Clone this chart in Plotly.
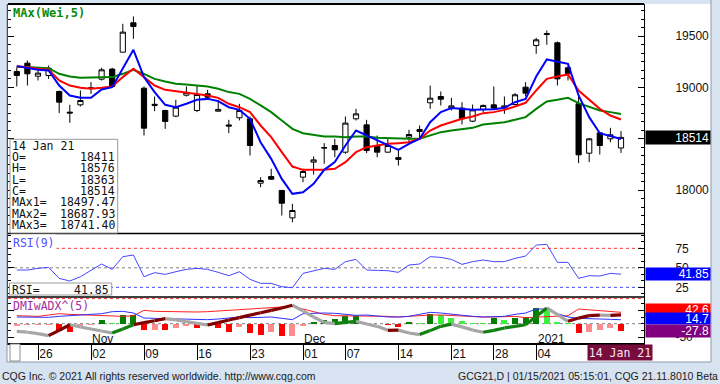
import plotly.graph_objects as go

W, H = 720, 384

# ---------------- data ----------------
dates = ["2020-10-22", "2020-10-23", "2020-10-26", "2020-10-27", "2020-10-28", "2020-10-29", "2020-10-30",
         "2020-11-02", "2020-11-03", "2020-11-04", "2020-11-05", "2020-11-06",
         "2020-11-09", "2020-11-10", "2020-11-11", "2020-11-12", "2020-11-13",
         "2020-11-16", "2020-11-17", "2020-11-18", "2020-11-19", "2020-11-20",
         "2020-11-23", "2020-11-24", "2020-11-25", "2020-11-27", "2020-11-30",
         "2020-12-01", "2020-12-02", "2020-12-03", "2020-12-04",
         "2020-12-07", "2020-12-08", "2020-12-09", "2020-12-10", "2020-12-11",
         "2020-12-14", "2020-12-15", "2020-12-16", "2020-12-17", "2020-12-18",
         "2020-12-21", "2020-12-22", "2020-12-23", "2020-12-24",
         "2020-12-28", "2020-12-29", "2020-12-30", "2020-12-31",
         "2021-01-04", "2021-01-05", "2021-01-06", "2021-01-07", "2021-01-08",
         "2021-01-11", "2021-01-12", "2021-01-13", "2021-01-14"]

open_ = [19156, 19237, 19110, 19117, 18961, 18760, 18831, 18990, 19081, 19179,
         19344, 19630, 18993, 18836, 18776, 18721, 18925, 18776, 18938, 18769,
         18635, 18705, 18695, 18068, 18133, 17997, 17730, 18127, 18273, 18410,
         18435, 18370, 18695, 18636, 18435, 18370, 18299, 18516, 18571, 18851,
         18912, 18799, 18799, 18672, 18786, 18831, 18802, 18834, 19003, 19409,
         19516, 19435, 19192, 18841, 18360, 18558, 18500, 18411]
high = [19198, 19263, 19182, 19214, 18971, 18831, 18971, 19052, 19192, 19192,
        19620, 19692, 19010, 18912, 18782, 18880, 19010, 19019, 18977, 18880,
        18685, 18841, 18717, 18126, 18208, 18003, 17867, 18208, 18328, 18458,
        18500, 18717, 18792, 18685, 18532, 18510, 18386, 18588, 18630, 19019,
        18961, 18899, 18857, 18834, 18834, 19010, 18912, 18945, 19052, 19484,
        19555, 19448, 19214, 18938, 18506, 18565, 18607, 18576]
low = [19010, 19019, 19068, 19084, 18750, 18656, 18815, 18938, 19068, 18997,
       19340, 19474, 18532, 18769, 18597, 18711, 18912, 18760, 18896, 18766,
       18555, 18679, 18338, 18029, 18100, 17753, 17688, 18078, 18152, 18256,
       18321, 18354, 18679, 18360, 18321, 18364, 18240, 18467, 18500, 18792,
       18825, 18776, 18640, 18662, 18760, 18789, 18743, 18828, 18912, 19328,
       19416, 19019, 19068, 18263, 18273, 18347, 18467, 18363]
close = [19117, 19133, 19140, 19188, 18857, 18752, 18873, 18996, 19172, 19010,
         19539, 19594, 18604, 18826, 18669, 18808, 18950, 18932, 18906, 18786,
         18625, 18776, 18435, 18094, 18107, 17873, 17802, 18182, 18295, 18414,
         18393, 18653, 18743, 18386, 18370, 18435, 18318, 18542, 18591, 18896,
         18886, 18821, 18695, 18782, 18825, 18799, 18821, 18929, 18945, 19464,
         19523, 19084, 19133, 18344, 18500, 18435, 18539, 18514]

ma1 = [19208, 19192, 19172, 19166, 19019, 18922, 18899, 18899, 18980, 19003,
       19182, 19367, 19101, 18955, 18831, 18808, 18841, 18880, 18889, 18867,
       18808, 18782, 18695, 18467, 18305, 18110, 17964, 17980, 18062, 18198,
       18273, 18435, 18581, 18532, 18484, 18435, 18393, 18451, 18500, 18662,
       18760, 18799, 18789, 18782, 18786, 18789, 18802, 18857, 18889, 19107,
       19273, 19253, 19230, 18922, 18711, 18555, 18523, 18497.47]
ma2 = [19205, 19198, 19182, 19172, 19068, 19019, 18997, 18987, 18997, 19010,
       19101, 19182, 19101, 19019, 18977, 18964, 18945, 18938, 18922, 18899,
       18841, 18808, 18760, 18630, 18516, 18370, 18230, 18198, 18198, 18198,
       18208, 18273, 18370, 18419, 18435, 18451, 18458, 18467, 18500, 18581,
       18630, 18662, 18695, 18717, 18750, 18760, 18782, 18815, 18851, 18971,
       19084, 19107, 19127, 18971, 18880, 18792, 18727, 18687.93]
ma3 = [19205, 19198, 19192, 19188, 19133, 19107, 19094, 19094, 19094, 19101,
       19133, 19172, 19133, 19084, 19058, 19036, 19029, 19019, 19010, 18987,
       18955, 18938, 18889, 18825, 18760, 18679, 18597, 18555, 18539, 18523,
       18523, 18516, 18523, 18523, 18510, 18506, 18500, 18500, 18500, 18532,
       18565, 18581, 18591, 18607, 18640, 18653, 18662, 18685, 18711, 18792,
       18864, 18880, 18899, 18847, 18808, 18776, 18760, 18741.40]

rsi = [47.2, 47.2, 49.3, 50.6, 36.5, 33.1, 38.6, 47.2, 54.9, 48.0,
       64.3, 66.4, 38.6, 43.8, 41.6, 45.0, 48.0, 49.3, 48.0, 44.2,
       39.9, 45.0, 35.2, 30.1, 30.1, 25.8, 24.5, 42.9, 46.3, 49.3,
       48.0, 57.9, 60.8, 47.2, 46.7, 46.3, 44.2, 53.6, 54.9, 64.3,
       63.4, 60.8, 54.4, 57.9, 60.0, 57.9, 57.9, 62.1, 65.1, 79.2,
       80.1, 57.0, 57.0, 36.5, 39.9, 39.5, 42.9, 41.85]

di_minus = [30, 27.5, 27.5, 32.5, 37.5, 35, 33.8, 31.3, 30, 27.5,
            27.5, 30, 50, 46.3, 45, 46.3, 45, 43.8, 45, 47.5,
            50, 52.5, 55, 58.8, 61.3, 62.5, 65, 55, 45, 35,
            30, 30, 30, 27.5, 27.5, 27.5, 25, 27.5, 32.5, 32.5,
            32.5, 30, 27.5, 26.3, 25, 25, 26.3, 27.5, 22.5, 25,
            27.5, 27.5, 30, 55, 52.5, 47.5, 45, 42.6]
di_plus = [25, 25, 25, 23.8, 27.5, 30, 32.5, 35, 37.5, 45,
           46.3, 40, 21.3, 20, 18.8, 17.5, 17.5, 16.3, 15, 17.5,
           20, 25, 22.5, 25, 25, 20, 15, 37.5, 40, 40,
           38.8, 36.3, 31.3, 32.5, 27.5, 25, 25, 27.5, 35, 42.5,
           40, 35, 32.5, 27.5, 25, 26.3, 27.5, 35, 40, 55,
           55, 37.5, 25, 20, 17.5, 17.5, 16.3, 14.7]
dmi_osc = [-7, -6, -5, -4, -29, -30, -10, -5, 12, 2,
           31, 32, -25, -22, -25, -17, -7, -16, -10, -16,
           -32, -12, -35, -41, -32, -47, -45, -7, 5, 15,
           17, 27, 28, -3, -2, -4, -14, 5, 3, 38,
           33, 21, 9, 4, 1, 21, 15, 21, 25, 59,
           55, 5, 3, -35, -32, -25, -16, -27.8]
adx = [-29, -32, -37.5, -45, -25, -4, -12.5, -20, -27.5, -35,
       -20, -4, 4, 11, 19, 14, 7.5, 1, -5, 4,
       14, 22.5, 32, 41, 50, 59, 69, 48, 25, 5,
       0, 5, 9, -1, -10, -25, -24, -35, -41, -26,
       -10, -2, -12, -24, -32, -25, -16, -10, -4, 27,
       59, 34, 9, 21, 30, 32, 31, 33]

tick_dates = ["2020-10-26", "2020-11-02", "2020-11-09", "2020-11-16", "2020-11-23",
              "2020-12-01", "2020-12-07", "2020-12-14", "2020-12-21", "2020-12-28", "2021-01-04"]
tick_labels = ["26", "02", "09", "16", "23", "01", "07", "14", "21", "28", "04"]
month_dates = ["2020-11-02", "2020-12-01", "2021-01-04"]
month_labels = ["Nov", "Dec", "2021"]

price_ticks = [18000, 18500, 19000, 19500]
price_tick_labels = ["18000", "", "19000", "19500"]
rsi_ticks = [25, 50, 75]
rsi_tick_labels = ["25", "50", "75"]
dmi_ticks = [50, -50]
dmi_tick_labels = ["", "-50"]

last_date_label = "14 Jan 21"
info_labels = ["O=", "H=", "L=", "C=", "MAx1=", "MAx2=", "MAx3="]
info_values = ["18411", "18576", "18363", "18514", "18497.47", "18687.93", "18741.40"]

# ---------------- figure ----------------
AX = "Liberation Sans, Arial, sans-serif"
MONO = "DejaVu Sans Mono, monospace"

xi = list(range(len(dates)))
tickvals = [dates.index(d) for d in tick_dates]


def px(x):
    return x / W


def py(y):
    return 1 - y / H


MAIN_T, MAIN_B = 4, 233.5
RSI_B = 297
DMI_B = 343
XL, XR = 8, 644

fig = go.Figure()

# moving averages
for ys, col in [(ma3, "#008000"), (ma2, "#ff0000"), (ma1, "#0000ff")]:
    fig.add_trace(go.Scatter(x=xi, y=ys, mode="lines", line=dict(color=col, width=2),
                             xaxis="x", yaxis="y", hoverinfo="skip"))

fig.add_trace(go.Candlestick(
    x=xi, open=open_, high=high, low=low, close=close,
    increasing=dict(fillcolor="white", line=dict(color="black", width=1)),
    decreasing=dict(fillcolor="black", line=dict(color="black", width=1)),
    whiskerwidth=0, xaxis="x", yaxis="y", hoverinfo="skip"))

# RSI
fig.add_trace(go.Scatter(x=xi, y=rsi, mode="lines", line=dict(color="#4646ff", width=1),
                         xaxis="x", yaxis="y2", hoverinfo="skip"))

# DMI histogram
bar_cols = []
for i, v in enumerate(dmi_osc):
    prev = dmi_osc[i - 1] if i > 0 else -1e9
    if v >= 0:
        bar_cols.append("#008000" if v >= prev else "#3cf03c")
    else:
        bar_cols.append("#ff0000" if v <= prev else "#ff8c8c")
fig.add_trace(go.Bar(x=xi, y=dmi_osc, width=0.55, marker=dict(color=bar_cols, line=dict(width=0)),
                     xaxis="x", yaxis="y3", hoverinfo="skip"))

fig.add_trace(go.Scatter(x=xi, y=di_minus, mode="lines", line=dict(color="#ff2020", width=1),
                         xaxis="x", yaxis="y3", hoverinfo="skip"))
fig.add_trace(go.Scatter(x=xi, y=di_plus, mode="lines", line=dict(color="#3030ff", width=1),
                         xaxis="x", yaxis="y3", hoverinfo="skip"))

# ADX thick coloured line
seg = {"#a6a6a6": ([], []), "#800000": ([], []), "#108010": ([], [])}
for i in range(1, len(adx)):
    if adx[i] < adx[i - 1]:
        c = "#a6a6a6"
    elif di_plus[i] > di_minus[i]:
        c = "#108010"
    else:
        c = "#800000"
    seg[c][0].extend([xi[i - 1], xi[i], None])
    seg[c][1].extend([adx[i - 1], adx[i], None])
for c, (sx, sy) in seg.items():
    fig.add_trace(go.Scatter(x=sx, y=sy, mode="lines", line=dict(color=c, width=3.2),
                             xaxis="x", yaxis="y3", hoverinfo="skip", connectgaps=False))

axis_font = dict(family=AX, size=12, color="#111111")

yaxis_common = dict(side="right", showgrid=False, zeroline=False, showline=True,
                    linecolor="black", linewidth=1, mirror="ticks", ticks="inside",
                    tickcolor="black", ticklen=6, tickwidth=1, tickfont=axis_font,
                    ticklabelstandoff=28, fixedrange=True, tickmode="array")

fig.update_layout(
    width=W, height=H, autosize=False,
    margin=dict(l=0, r=0, t=0, b=0, pad=0),
    paper_bgcolor="#d7e3f0", plot_bgcolor="white",
    showlegend=False, bargap=0,
    xaxis=dict(domain=[px(XL), px(XR)], range=[-0.83, 59.17], anchor="y3",
               tickmode="array", tickvals=tickvals, ticktext=tick_labels,
               ticks="outside", ticklen=15, tickwidth=1, tickcolor="black",
               ticklabelposition="outside right", ticklabelstandoff=-1,
               tickfont=axis_font, showgrid=False, zeroline=False,
               showline=True, linecolor="black", linewidth=1.5,
               rangeslider=dict(visible=False), fixedrange=True),
    yaxis=dict(domain=[py(MAIN_B), py(MAIN_T)], range=[17578, 19813], anchor="x",
               tickvals=price_ticks, ticktext=price_tick_labels,
               minor=dict(tickmode="linear", tick0=17500, dtick=500 / 6, ticks="inside",
                          ticklen=3, tickcolor="black"),
               **yaxis_common),
    yaxis2=dict(domain=[py(RSI_B), py(MAIN_B)], range=[12.6, 94.0], anchor="x",
                tickvals=rsi_ticks, ticktext=rsi_tick_labels,
                minor=dict(tickmode="linear", tick0=0, dtick=25 / 3, ticks="inside",
                           ticklen=3, tickcolor="black"),
                **yaxis_common),
    yaxis3=dict(domain=[py(DMI_B), py(RSI_B)], range=[-72.4, 100], anchor="x",
                tickvals=dmi_ticks, ticktext=dmi_tick_labels,
                minor=dict(tickmode="linear", tick0=0, dtick=25, ticks="inside",
                           ticklen=3, tickcolor="black"),
                **yaxis_common),
)

shapes = []
# white chart window + frame
shapes.append(dict(type="rect", xref="paper", yref="paper", x0=px(7), x1=px(711), y0=py(362), y1=py(4),
                   fillcolor="white", line=dict(width=0), layer="below"))
for (x0, y0, x1, y1) in [(7, 4, 7, 362), (711, 0, 711, 362), (7, 362, 711, 362)]:
    shapes.append(dict(type="line", xref="paper", yref="paper", x0=px(x0), x1=px(x1), y0=py(y0), y1=py(y1),
                       line=dict(color="#8c9aa8", width=1)))
# panel separators
for yy, wdt in [(MAIN_T, 2), (MAIN_B, 1.5), (RSI_B, 1.5)]:
    shapes.append(dict(type="line", xref="paper", yref="paper", x0=px(XL), x1=px(XR), y0=py(yy), y1=py(yy),
                       line=dict(color="black", width=wdt)))
# reference lines
for yv, col, ax in [(75, "#ff3030", "y2"), (50, "#808080", "y2"), (25, "#4646ff", "y2"),
                    (94, "#ff3030", "y3"), (0, "#808080", "y3")]:
    shapes.append(dict(type="line", xref="x domain", yref=ax, x0=0, x1=1, y0=yv, y1=yv,
                       line=dict(color=col, width=1, dash="dot"), layer="below"))
# info box
shapes.append(dict(type="rect", xref="paper", yref="paper", x0=px(10), x1=px(117.7), y0=py(233), y1=py(139.3),
                   fillcolor="white", line=dict(color="#9a9a9a", width=1)))
# RSI value box
shapes.append(dict(type="rect", xref="paper", yref="paper", x0=px(9.5), x1=px(111.7), y0=py(295), y1=py(283),
                   fillcolor="white", line=dict(color="#9a9a9a", width=1)))
# small button at bottom-left
shapes.append(dict(type="rect", xref="paper", yref="paper", x0=px(10), x1=px(20), y0=py(361), y1=py(344),
                   fillcolor="white", line=dict(color="#8c8c8c", width=1)))
fig.update_layout(shapes=shapes)


def ann(text, x, y, xanchor="left", size=12, color="#111111", family=AX, yref="paper", **kw):
    d = dict(text=text, x=px(x), y=py(y) if yref == "paper" else y, xref="paper", yref=yref,
             xanchor=xanchor, yanchor="middle", showarrow=False,
             font=dict(size=size, color=color, family=family))
    d.update(kw)
    return d


anns = []
anns.append(ann("<b>MAx(Wei,5)</b>", 11, 13, size=12, color="#0a8a0a", family=MONO))
anns.append(ann("RSI(9)", 11, 243, size=11.5, color="#5050ff", family=MONO, bgcolor="white"))
anns.append(ann("DMIwADX^(5)", 11, 306, size=11.5, color="#a0309a", family=MONO))

# info box text
anns.append(ann(last_date_label, 10, 146, size=11.5, family=MONO))
for k, (lab, val) in enumerate(zip(info_labels, info_values)):
    yy = 157 + k * 11.35
    anns.append(ann(lab, 10, yy, size=11.5, family=MONO))
    anns.append(ann(val, 117, yy, xanchor="right", size=11.5, family=MONO))
anns.append(ann("RSI=", 10, 289.5, size=11.5, family=MONO))
anns.append(ann(f"{rsi[-1]:.2f}", 111, 289.5, xanchor="right", size=11.5, family=MONO))

# month labels (data x)
for d, lab in zip(month_dates, month_labels):
    anns.append(dict(text=lab, x=dates.index(d) - 0.05, y=py(338.5), xref="x", yref="paper",
                     xanchor="left", yanchor="middle", showarrow=False, font=axis_font))

# right value boxes
anns.append(dict(text=f"{close[-1]}", x=px(645), y=close[-1], xref="paper", yref="y",
                 xanchor="left", yanchor="middle", showarrow=False, align="right",
                 width=62, height=11, borderpad=1, bgcolor="black",
                 font=dict(family=AX, size=12, color="white")))
anns.append(dict(text=f"{rsi[-1]:.2f}", x=px(645), y=rsi[-1], xref="paper", yref="y2",
                 xanchor="left", yanchor="middle", showarrow=False, align="right",
                 width=62, height=10, borderpad=1, bgcolor="#0000ff",
                 font=dict(family=AX, size=12, color="white")))
for txt, yy, hh, col in [(f"{di_minus[-1]:.1f}", 309.5, 10, "#ff0000"),
                         (f"{di_plus[-1]:.1f}", 318.3, 9, "#0000ff"),
                         (f"{dmi_osc[-1]:.1f}", 331.2, 10, "#800080")]:
    anns.append(dict(text=txt, x=px(645), y=py(yy), xref="paper", yref="paper",
                     xanchor="left", yanchor="middle", showarrow=False, align="right",
                     width=62, height=hh, borderpad=1, bgcolor=col,
                     font=dict(family=AX, size=12, color="white")))

# date box in x axis strip
anns.append(dict(text=last_date_label, x=px(587), y=py(352.5), xref="paper", yref="paper",
                 xanchor="left", yanchor="middle", showarrow=False, align="center",
                 width=62, height=13, borderpad=1, bgcolor="#780c3c",
                 font=dict(family=MONO, size=11.5, color="#ffe8f2")))

# footer
anns.append(ann("CQG Inc. © 2021 All rights reserved worldwide. http://www.cqg.com", 0, 376,
                size=10.5, color="#202020"))
anns.append(ann("GCG21,D | 01/15/2021 05:15:01, CQG 21.11.8010 Beta", 720, 376, xanchor="right",
                size=10.5, color="#202020"))

fig.update_layout(annotations=anns)

fig.write_html("out.html", config={"displayModeBar": False, "staticPlot": True},
               post_script="document.body.style.margin='0';document.body.style.overflow='hidden';")
